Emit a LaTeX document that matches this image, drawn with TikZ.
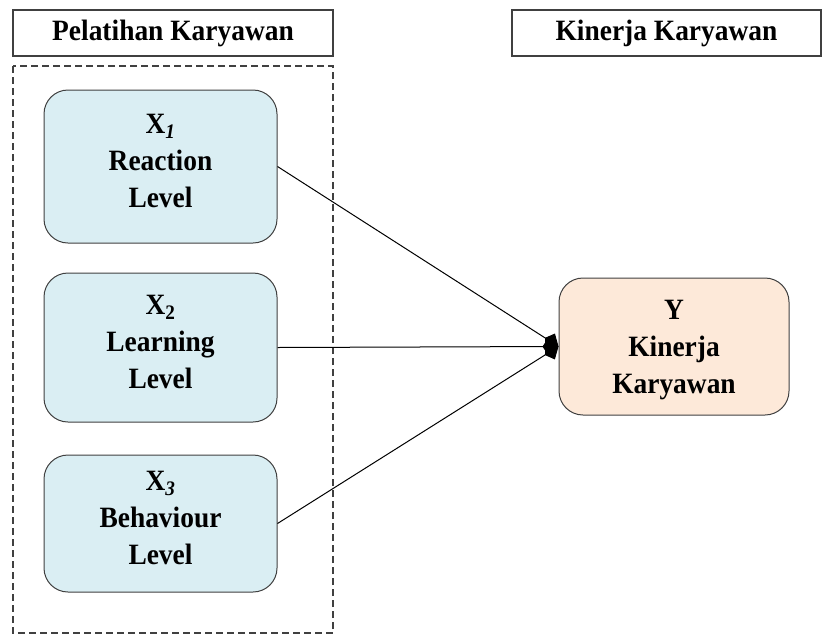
\documentclass[tikz,border=0pt]{standalone}
\usepackage{fontspec}
\setmainfont{Liberation Serif}[FakeStretch=0.93]
\usetikzlibrary{arrows.meta}
\definecolor{varblue}{HTML}{DAEEF3}
\definecolor{varpeach}{HTML}{FDE9D9}
\definecolor{edgegray}{HTML}{404040}
\newcommand{\boxfont}{\fontsize{29.5}{37}\selectfont\bfseries}

\begin{document}
\begin{tikzpicture}[x=1pt, y=-1pt, >={Kite[length=16pt, width=18pt, inset=6pt]},
    headbox/.style={draw=edgegray, line width=1.3pt, minimum width=320pt, minimum height=46pt, inner sep=0pt, font=\boxfont},
    varbox/.style={draw=edgegray, line width=1pt, rounded corners=24pt, minimum width=233pt, inner sep=0pt, align=center, font=\boxfont},
    link/.style={->, line width=1pt}]
    \useasboundingbox (0, 0) rectangle (824, 635);

    % Headers
    \node[headbox] (hx) at (173, 33) {Pelatihan Karyawan};
    \node[headbox, minimum width=309pt] (hy) at (666.5, 33) {Kinerja Karyawan};

    % Dashed frame round the X variables
    \draw[edgegray, line width=1.3pt, dash pattern=on 7pt off 4pt] (13, 66) rectangle (333, 633);

    % Variable boxes
    \node[varbox, fill=varblue, minimum height=153pt, text depth=12pt] (x1) at (160.5, 166.5)
        {X\textsubscript{\textit{1}}\\Reaction\\Level};
    \node[varbox, fill=varblue, minimum height=149pt, text depth=12pt] (x2) at (160.5, 347.5)
        {X\textsubscript{2}\\Learning\\Level};
    \node[varbox, fill=varblue, minimum height=137pt, text depth=12pt] (x3) at (160.5, 523.5)
        {X\textsubscript{\textit{3}}\\Behaviour\\Level};
    \node[varbox, fill=varpeach, minimum width=230pt, minimum height=137pt, text depth=0pt] (y) at (674, 346.5)
        {Y\\Kinerja\\Karyawan};

    % Arrows
    \draw[link] (x1.east) -- (y.west);
    \draw[link] (x2.east) -- (y.west);
    \draw[link] (x3.east) -- (y.west);
\end{tikzpicture}
\end{document}
